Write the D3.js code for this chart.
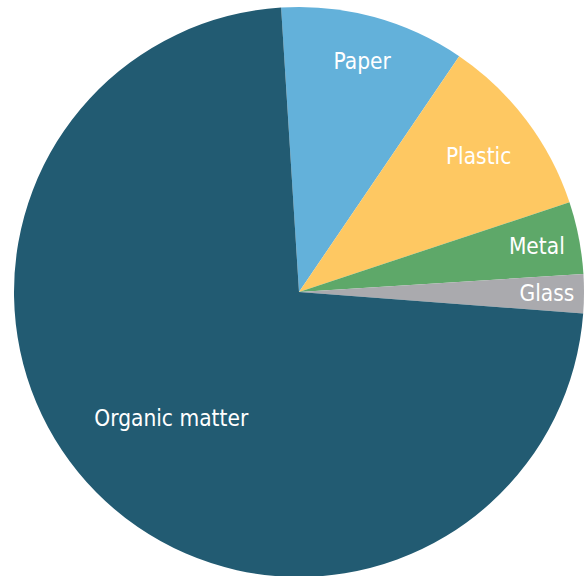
<!DOCTYPE html>
<html>
<head>
<meta charset="utf-8">
<script src="https://cdn.jsdelivr.net/npm/d3@7"></script>
<style>
  html, body { margin: 0; padding: 0; background: #fff; }
  svg text { font-family: "DejaVu Sans Condensed", "DejaVu Sans", sans-serif; }
</style>
</head>
<body>
<svg id="chart" width="584" height="576"></svg>
<script>
// Waste composition (share of total, %)
const categories = ['Paper', 'Plastic', 'Metal', 'Glass', 'Organic matter'];
const values = [10.5, 10.4, 4.1, 2.2, 72.8];
const colors = ['#63b1da', '#fec862', '#5ea869', '#aaaaae', '#225b72'];

// label distance from the centre, as a fraction of the radius
const labelRadius = [0.84, 0.79, 0.85, 0.87, 0.63];

const width = 584, height = 576;
const cx = 299, cy = 292, radius = 285;
const startOffset = -3.6 * Math.PI / 180;

const svg = d3.select('#chart');
const g = svg.append('g').attr('transform', `translate(${cx},${cy})`);

const pie = d3.pie()
    .sort(null)
    .value(d => d.value)
    .startAngle(startOffset)
    .endAngle(startOffset + 2 * Math.PI);

const data = categories.map((c, i) => ({ name: c, value: values[i], i }));
const arcs = pie(data);

const arc = d3.arc().innerRadius(0).outerRadius(radius);

g.selectAll('path.slice')
    .data(arcs)
    .join('path')
    .attr('class', 'slice')
    .attr('d', arc)
    .attr('fill', d => colors[d.data.i]);

g.selectAll('text.label')
    .data(arcs)
    .join('text')
    .attr('class', 'label')
    .attr('transform', d => {
        const r = radius * labelRadius[d.data.i];
        const a = (d.startAngle + d.endAngle) / 2;
        return `translate(${r * Math.sin(a)},${-r * Math.cos(a)})`;
    })
    .attr('text-anchor', 'middle')
    .attr('dy', '0.35em')
    .attr('fill', '#fff')
    .style('font-size', '22.5px')
    .text(d => d.data.name);
</script>
</body>
</html>
